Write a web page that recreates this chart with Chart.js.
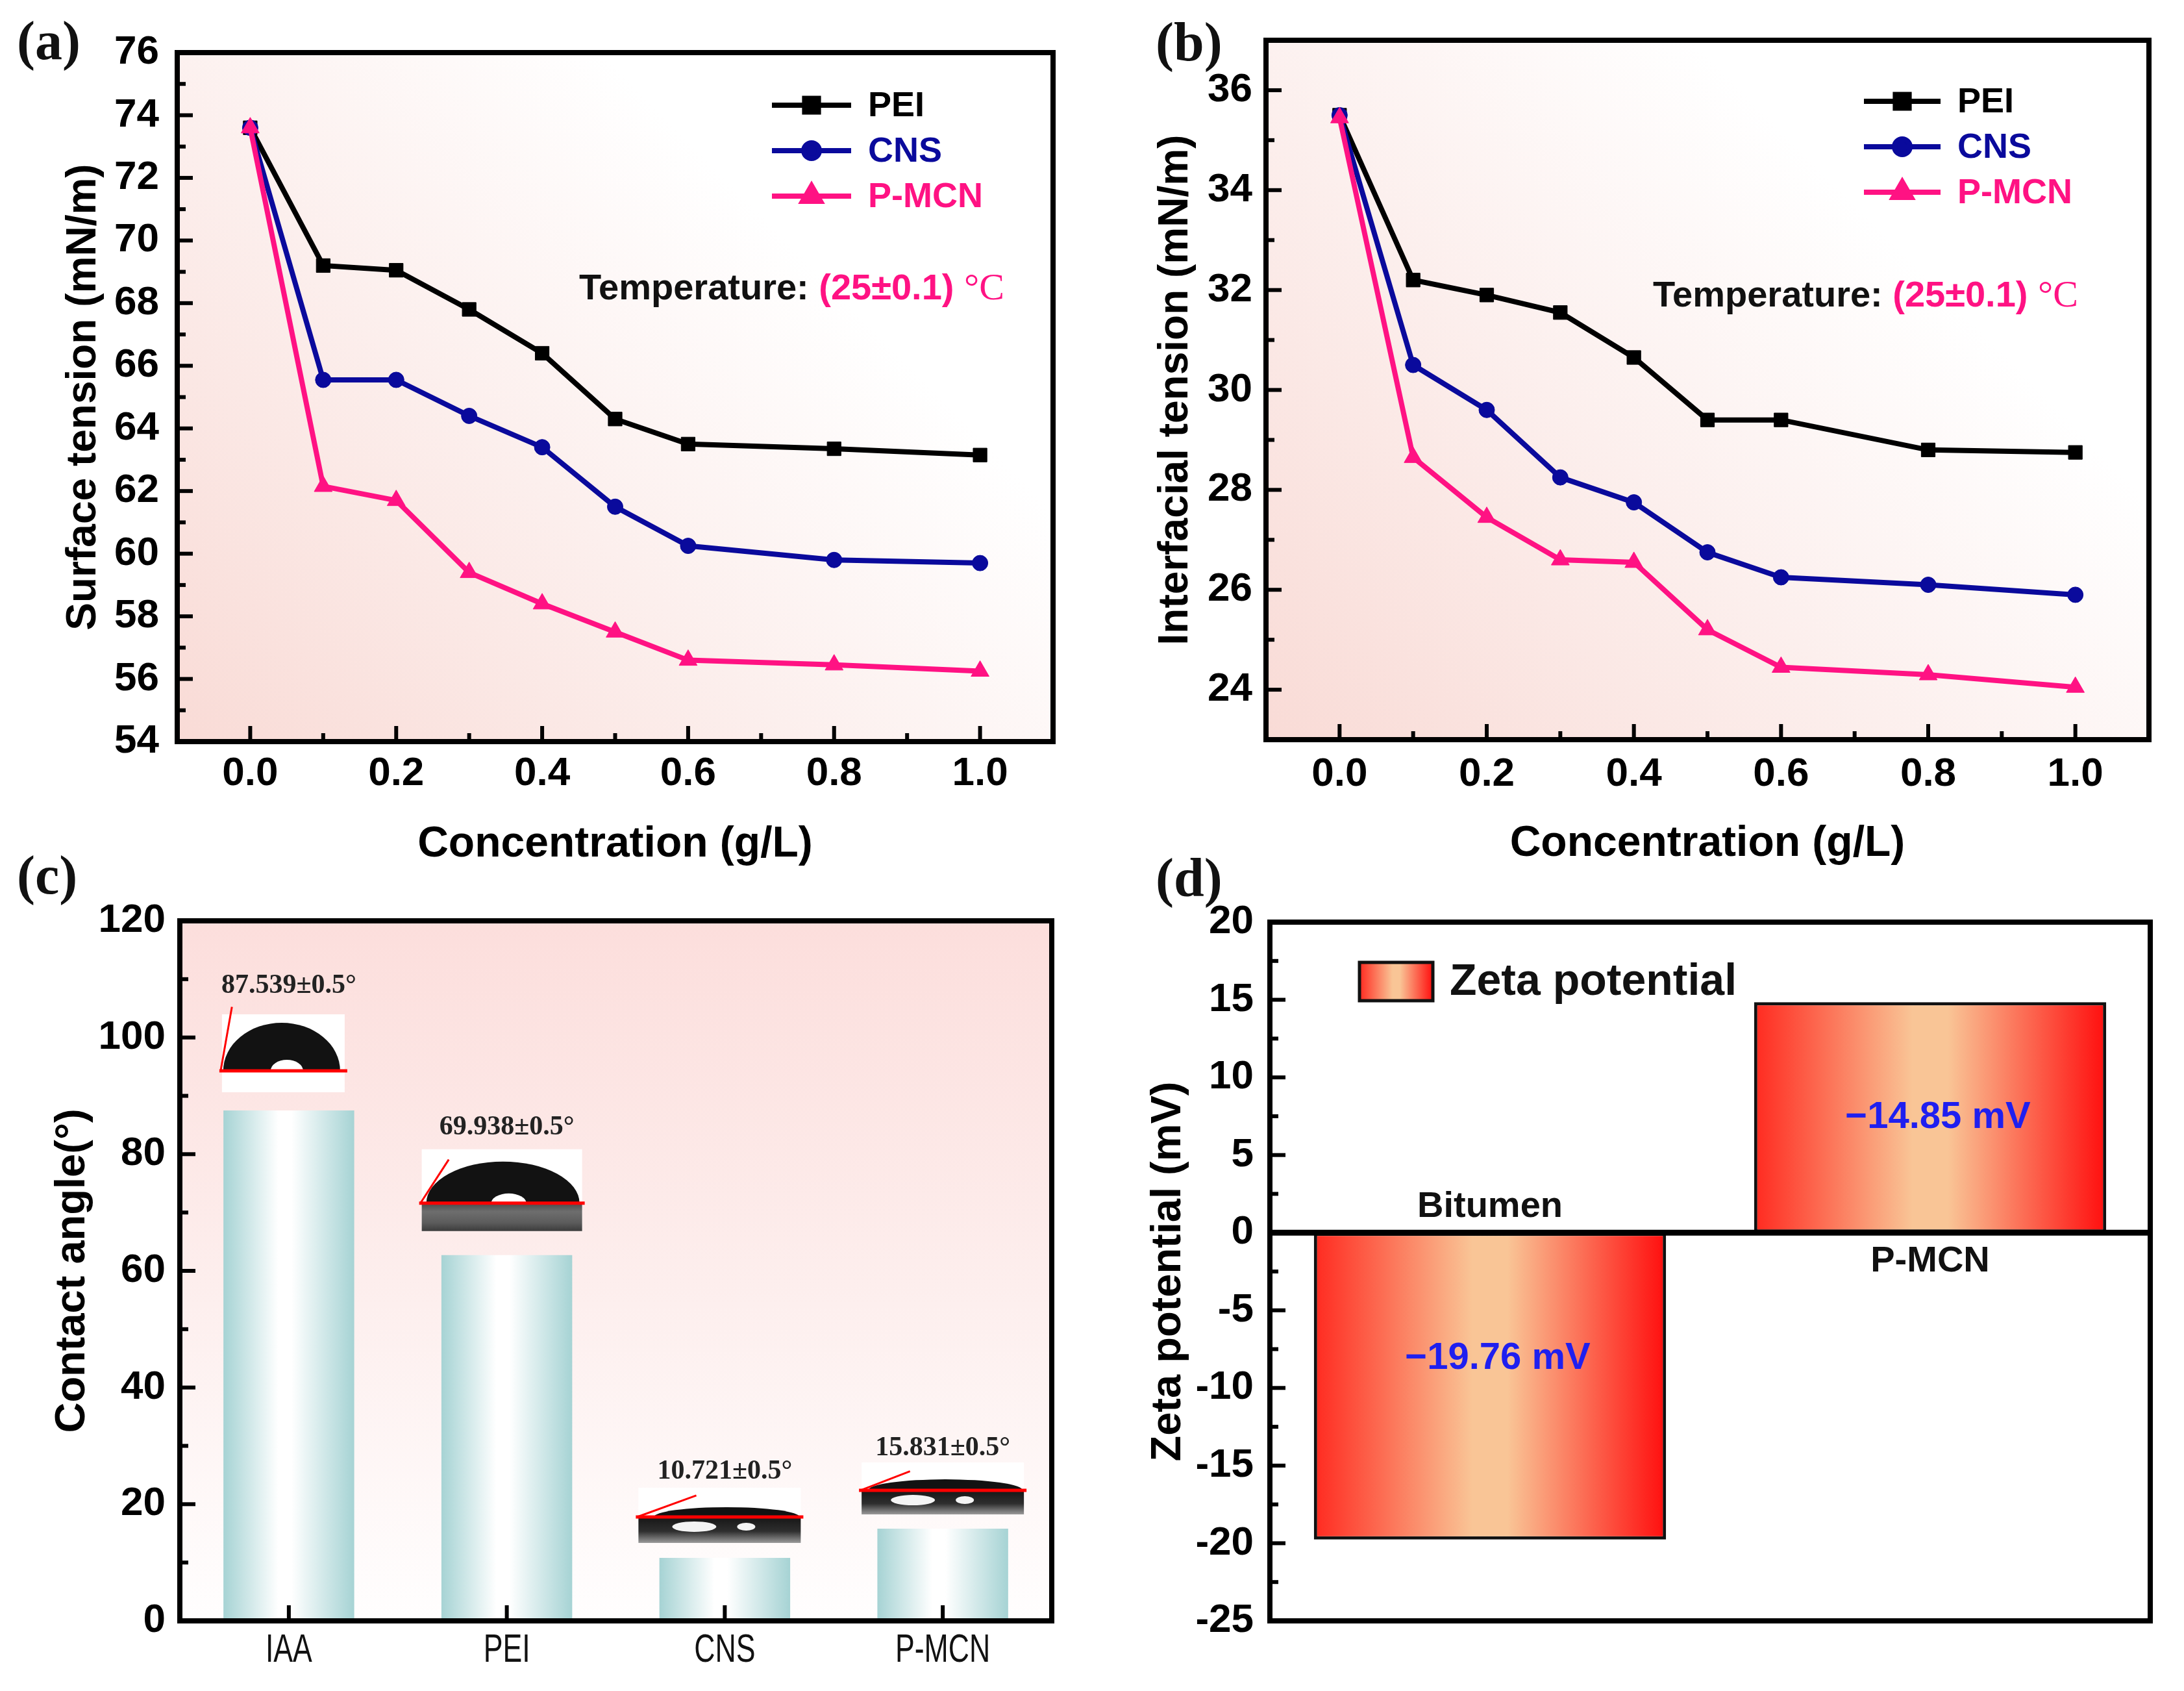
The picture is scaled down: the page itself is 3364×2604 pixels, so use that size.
<!DOCTYPE html>
<html>
<head>
<meta charset="utf-8">
<script src="https://cdn.jsdelivr.net/npm/chart.js@4.4.1/dist/chart.umd.min.js"></script>
<style>
  html, body { margin: 0; padding: 0; background: #fff; }
  body { width: 3364px; height: 2604px; position: relative; overflow: hidden; }
  canvas { position: absolute; }
  .tag { position: absolute; font: bold 84px "Liberation Serif", "Times New Roman", serif; color: #111; line-height: 1; z-index: 5; }
</style>
</head>
<body>
<canvas id="chart-a" style="left:0;top:0" width="1682" height="1370"></canvas>
<canvas id="chart-b" style="left:1682px;top:0" width="1682" height="1370"></canvas>
<canvas id="chart-c" style="left:0;top:1330px" width="1682" height="1274"></canvas>
<canvas id="chart-d" style="left:1682px;top:1330px" width="1682" height="1274"></canvas>
<div class="tag" style="left:26px;top:21px">(a)</div>
<div class="tag" style="left:1780px;top:23px">(b)</div>
<div class="tag" style="left:26px;top:1306px">(c)</div>
<div class="tag" style="left:1780px;top:1310px">(d)</div>
<script>
// ---- data ----
const CONC = [0, 0.1, 0.2, 0.3, 0.4, 0.5, 0.6, 0.8, 1.0];
const CONC_TICKS = [0, 0.2, 0.4, 0.6, 0.8, 1.0];

// (a) surface tension, mN/m
const ST_PEI  = [73.6, 69.2, 69.05, 67.8, 66.4, 64.3, 63.5, 63.35, 63.15];
const ST_CNS  = [73.6, 65.55, 65.55, 64.4, 63.4, 61.5, 60.25, 59.8, 59.7];
const ST_PMCN = [73.6, 62.15, 61.7, 59.4, 58.4, 57.5, 56.6, 56.45, 56.25];
const ST_TICKS = [54, 56, 58, 60, 62, 64, 66, 68, 70, 72, 74, 76];

// (b) interfacial tension, mN/m
const IFT_PEI  = [35.5, 32.2, 31.9, 31.55, 30.65, 29.4, 29.4, 28.8, 28.75];
const IFT_CNS  = [35.5, 30.5, 29.6, 28.25, 27.75, 26.75, 26.25, 26.1, 25.9];
const IFT_PMCN = [35.45, 28.65, 27.45, 26.6, 26.55, 25.2, 24.45, 24.3, 24.05];
const IFT_TICKS = [24, 26, 28, 30, 32, 34, 36];

// (c) contact angle
const CA_SAMPLES = ['IAA', 'PEI', 'CNS', 'P-MCN'];
const CA_VALUES = [87.5, 62.7, 10.8, 15.8];
const CA_NOTES = ['87.539±0.5°', '69.938±0.5°', '10.721±0.5°', '15.831±0.5°'];
const CA_TICKS = [0, 20, 40, 60, 80, 100, 120];

// (d) zeta potential
const ZETA_SAMPLES = ['Bitumen', 'P-MCN'];
const ZETA_VALUES = [-19.76, 14.85];
const ZETA_NOTES = ['−19.76 mV', '−14.85 mV'];
const ZETA_TICKS = [-25, -20, -15, -10, -5, 0, 5, 10, 15, 20];

const TEMP_NOTE = ['Temperature: ', '(25±0.1) ', '°C'];

const BLACK = '#000000';
const NAVY = '#0a0a9c';
const PINK = '#ff1283';
const SANS = '"Liberation Sans", Arial, sans-serif';
const SERIF = '"Liberation Serif", "Times New Roman", serif';

Chart.defaults.font.family = SANS;
Chart.defaults.color = '#000';

function midpoints(vals) {
    const out = [];
    for (let i = 0; i < vals.length - 1; i++) out.push((vals[i] + vals[i + 1]) / 2);
    return out;
}

// background, inward ticks, zero line and the heavy frame
function framePlugin(cfg) {
    return {
        id: 'frame',
        beforeDraw(chart) {
            const { ctx, chartArea: a } = chart;
            if (!cfg.fill) return;
            let g;
            if (cfg.fill === 'diagonal') {
                g = ctx.createLinearGradient(a.left, a.bottom, a.left + a.width * 0.8, a.top);
                g.addColorStop(0, '#f9dbd6');
                g.addColorStop(0.45, '#fcefed');
                g.addColorStop(0.8, '#ffffff');
            } else {
                g = ctx.createLinearGradient(0, a.top, 0, a.bottom);
                g.addColorStop(0, '#fcdedc');
                g.addColorStop(0.55, '#fdefee');
                g.addColorStop(1, '#fffefe');
            }
            ctx.save();
            ctx.fillStyle = g;
            ctx.fillRect(a.left, a.top, a.width, a.height);
            ctx.restore();
        },
        afterDatasetsDraw(chart) {
            const { ctx, chartArea: a, scales } = chart;
            const sx = scales.x, sy = scales.y;
            const seg = (x1, y1, x2, y2) => { ctx.beginPath(); ctx.moveTo(x1, y1); ctx.lineTo(x2, y2); ctx.stroke(); };
            ctx.save();
            ctx.strokeStyle = '#000';
            ctx.lineWidth = 6;
            (cfg.yMajor || []).forEach(v => { const p = sy.getPixelForValue(v); seg(a.left, p, a.left + 24, p); });
            (cfg.yMinor || []).forEach(v => { const p = sy.getPixelForValue(v); seg(a.left, p, a.left + 13, p); });
            (cfg.xMajor || []).forEach(v => { const p = sx.getPixelForValue(v); seg(p, a.bottom, p, a.bottom - 24); });
            (cfg.xMinor || []).forEach(v => { const p = sx.getPixelForValue(v); seg(p, a.bottom, p, a.bottom - 13); });
            if (cfg.zeroLine) {
                ctx.lineWidth = 9;
                const p = sy.getPixelForValue(0);
                seg(a.left, p, a.right, p);
            }
            ctx.lineWidth = 8;
            ctx.strokeRect(a.left, a.top, a.width, a.height);
            ctx.restore();
        }
    };
}

// line + marker legend and temperature note for (a) and (b)
function seriesLegend(cfg) {
    return {
        id: 'seriesLegend',
        afterDraw(chart) {
            const { ctx, chartArea: a } = chart;
            ctx.save();
            chart.data.datasets.forEach((ds, i) => {
                const y = a.top + cfg.top + i * cfg.gap;
                const x1 = a.right - cfg.right, x2 = x1 + cfg.len;
                ctx.strokeStyle = ds.borderColor;
                ctx.fillStyle = ds.borderColor;
                ctx.lineWidth = 8;
                ctx.beginPath(); ctx.moveTo(x1, y); ctx.lineTo(x2, y); ctx.stroke();
                Chart.helpers.drawPoint(ctx, { pointStyle: ds.pointStyle, radius: ds.pointRadius, rotation: 0, borderWidth: 1 }, (x1 + x2) / 2, y);
                ctx.font = 'bold 54px ' + SANS;
                ctx.textAlign = 'left';
                ctx.textBaseline = 'middle';
                ctx.fillText(ds.label, x2 + 26, y + 2);
            });
            let x = a.left + cfg.noteX;
            const y = a.top + cfg.noteY;
            ctx.font = 'bold 56px ' + SANS;
            ctx.fillStyle = '#111';
            ctx.fillText(TEMP_NOTE[0], x, y);
            x += ctx.measureText(TEMP_NOTE[0]).width;
            ctx.fillStyle = PINK;
            ctx.fillText(TEMP_NOTE[1], x, y);
            x += ctx.measureText(TEMP_NOTE[1]).width;
            ctx.font = '58px ' + SERIF;
            ctx.fillText(TEMP_NOTE[2], x, y);
            ctx.restore();
        }
    };
}

function series(label, values, color, style, radius, order) {
    return {
        label,
        data: CONC.map((c, i) => ({ x: c, y: values[i] })),
        borderColor: color,
        backgroundColor: color,
        pointBackgroundColor: color,
        pointBorderColor: color,
        borderWidth: 8,
        pointStyle: style,
        pointRadius: radius,
        pointBorderWidth: 1,
        tension: 0,
        order
    };
}

function linePanel(id, sets, yRange, yTicks, yTitle, box, legend) {
    return new Chart(document.getElementById(id), {
        type: 'line',
        data: { datasets: sets },
        options: {
            responsive: false,
            animation: false,
            devicePixelRatio: 1,
            events: [],
            layout: { padding: box.pad },
            plugins: { legend: { display: false }, tooltip: { enabled: false } },
            scales: {
                x: {
                    type: 'linear', min: -0.1, max: 1.1,
                    afterBuildTicks: s => { s.ticks = CONC_TICKS.map(v => ({ value: v })); },
                    afterFit: s => { s.height = box.xH; },
                    grid: { display: false, drawTicks: false },
                    border: { display: false },
                    ticks: { padding: box.xPad, autoSkip: false, maxRotation: 0, color: '#000',
                             font: { size: 62, weight: 'bold', lineHeight: 1 }, callback: v => v.toFixed(1) },
                    title: { display: true, text: 'Concentration (g/L)', color: '#000',
                             font: { size: 66, weight: 'bold', lineHeight: 1 }, padding: { top: 0, bottom: 0 } }
                },
                y: {
                    type: 'linear', min: yRange[0], max: yRange[1],
                    afterBuildTicks: s => { s.ticks = yTicks.map(v => ({ value: v })); },
                    afterFit: s => { s.width = box.yW; },
                    grid: { display: false, drawTicks: false },
                    border: { display: false },
                    ticks: { padding: box.yPad, autoSkip: false, color: '#000',
                             font: { size: 62, weight: 'bold', lineHeight: 1 }, callback: v => String(v) },
                    title: { display: true, text: yTitle, color: '#000',
                             font: { size: 64, weight: 'bold', lineHeight: 1 }, padding: { top: box.yTitlePad, bottom: 0 } }
                }
            }
        },
        plugins: [
            framePlugin({ fill: 'diagonal', xMajor: CONC_TICKS, xMinor: midpoints(CONC_TICKS), yMajor: yTicks, yMinor: midpoints(yTicks) }),
            seriesLegend(legend)
        ]
    });
}

// (a)
linePanel('chart-a', [
    series('PEI', ST_PEI, BLACK, 'rect', 15, 2),
    series('CNS', ST_CNS, NAVY, 'circle', 12, 1),
    series('P-MCN', ST_PMCN, PINK, 'triangle', 16, 0)
], [54, 76], ST_TICKS, 'Surface tension (mN/m)',
    { pad: { left: 0, top: 81, right: 60, bottom: 36 }, yW: 273, yPad: 28, yTitlePad: 97, xH: 192, xPad: 19 },
    { top: 81, gap: 70, right: 433, len: 122, noteX: 619, noteY: 365 });

// (b)
linePanel('chart-b', [
    series('PEI', IFT_PEI, BLACK, 'rect', 15, 2),
    series('CNS', IFT_CNS, NAVY, 'circle', 12, 1),
    series('P-MCN', IFT_PMCN, PINK, 'triangle', 16, 0)
], [23, 37], IFT_TICKS, 'Interfacial tension (mN/m)',
    { pad: { left: 0, top: 62, right: 54, bottom: 37 }, yW: 268, yPad: 21, yTitlePad: 97, xH: 194, xPad: 23 },
    { top: 94, gap: 70, right: 439, len: 118, noteX: 596, noteY: 395 });

// horizontal gradient fill for a bar, built from its category slot
function barFill(stops, widthFrac, fallback) {
    return c => {
        const chart = c.chart, a = chart.chartArea, sx = chart.scales.x;
        if (c.type !== 'data' || !a || !sx) return fallback;
        const half = (a.width / chart.data.labels.length) * widthFrac / 2;
        const cx = sx.getPixelForValue(c.dataIndex);
        const g = chart.ctx.createLinearGradient(cx - half, 0, cx + half, 0);
        stops.forEach(([o, col]) => g.addColorStop(o, col));
        return g;
    };
}

const TEAL_STOPS = [[0, '#a6d3d4'], [0.42, '#ffffff'], [0.52, '#ffffff'], [1, '#a6d3d4']];
const RED_STOPS = [[0, '#ff2a20'], [0.45, '#f9c596'], [0.55, '#f9c596'], [1, '#ff0e0e']];

// droplet insets above the contact-angle bars (offsets from bar centre / bar top, px)
const DROPS = [
    { dx: -103, w: 189, top: -148, base: -61, bottom: -28, domeDx: -11, hw: 90, h: 74, sub: null, angle: 80, len: 100, hl: [8, 25, 17] },
    { dx: -131, w: 247, top: -163, base: -80, bottom: -37, domeDx: -6, hw: 118, h: 64, sub: 'gray', angle: 57, len: 80, hl: [9, 27, 15] },
    { dx: -133, w: 250, top: -108, base: -63, bottom: -23, domeDx: 3, hw: 112, h: 15, sub: 'dark', angle: 20, len: 97, hl: null },
    { dx: -125, w: 250, top: -102, base: -59, bottom: -22, domeDx: 4, hw: 119, h: 17, sub: 'dark', angle: 21, len: 82, hl: null }
];
const NOTE_DY = [-192, -197, -133, -124];

const dropPlugin = {
    id: 'drops',
    afterDatasetsDraw(chart) {
        const { ctx, chartArea: a } = chart;
        const bars = chart.getDatasetMeta(0).data;
        ctx.save();
        bars.forEach((bar, i) => {
            const d = DROPS[i];
            const cx = bar.x, ty = bar.y;
            const bx = cx + d.dx, top = ty + d.top, base = ty + d.base, bottom = ty + d.bottom;
            const dcx = cx + d.domeDx;
            ctx.fillStyle = '#ffffff';
            ctx.fillRect(bx, top, d.w, bottom - top);
            if (d.sub) {
                const g = ctx.createLinearGradient(0, base, 0, bottom);
                if (d.sub === 'gray') {
                    g.addColorStop(0, '#4a4a4a'); g.addColorStop(0.3, '#6e6e6e'); g.addColorStop(0.7, '#5c5c5c'); g.addColorStop(1, '#3c3c3c');
                } else {
                    g.addColorStop(0, '#161616'); g.addColorStop(0.55, '#2e2e2e'); g.addColorStop(1, '#9a9a9a');
                }
                ctx.fillStyle = g;
                ctx.fillRect(bx, base, d.w, bottom - base);
                if (d.sub === 'dark') {
                    ctx.fillStyle = '#f4f4f4';
                    ctx.beginPath(); ctx.ellipse(dcx - 50, base + 15, 34, 8, 0, 0, Math.PI * 2); ctx.fill();
                    ctx.beginPath(); ctx.ellipse(dcx + 30, base + 15, 14, 6, 0, 0, Math.PI * 2); ctx.fill();
                }
            }
            ctx.fillStyle = '#121212';
            ctx.beginPath(); ctx.ellipse(dcx, base, d.hw, d.h, 0, Math.PI, Math.PI * 2); ctx.closePath(); ctx.fill();
            if (d.hl) {
                ctx.fillStyle = '#ffffff';
                ctx.beginPath(); ctx.ellipse(dcx + d.hl[0], base, d.hl[1], d.hl[2], 0, Math.PI, Math.PI * 2); ctx.closePath(); ctx.fill();
            }
            ctx.strokeStyle = '#ff0000';
            ctx.lineWidth = 5;
            ctx.beginPath(); ctx.moveTo(bx - 4, base); ctx.lineTo(bx + d.w + 4, base); ctx.stroke();
            const r = d.angle * Math.PI / 180;
            ctx.lineWidth = 3;
            ctx.beginPath(); ctx.moveTo(bx - 2, base); ctx.lineTo(bx - 2 + d.len * Math.cos(r), base - d.len * Math.sin(r)); ctx.stroke();
            ctx.font = 'bold 42px ' + SERIF;
            ctx.fillStyle = '#222';
            ctx.textAlign = 'center';
            ctx.textBaseline = 'middle';
            ctx.fillText(CA_NOTES[i], cx, ty + NOTE_DY[i]);

            // condensed category label under the axis
            ctx.save();
            ctx.translate(cx, a.bottom + 46);
            ctx.scale(0.72, 1);
            ctx.font = '62px ' + SANS;
            ctx.fillStyle = '#111';
            ctx.fillText(CA_SAMPLES[i], 0, 0);
            ctx.restore();
        });
        ctx.restore();
    }
};

// (c)
new Chart(document.getElementById('chart-c'), {
    type: 'bar',
    data: {
        labels: CA_SAMPLES,
        datasets: [{
            label: 'Contact angle',
            data: CA_VALUES,
            backgroundColor: barFill(TEAL_STOPS, 0.6, '#a6d3d4'),
            borderWidth: 0,
            barPercentage: 0.6,
            categoryPercentage: 1
        }]
    },
    options: {
        responsive: false,
        animation: false,
        devicePixelRatio: 1,
        events: [],
        layout: { padding: { left: 0, top: 88, right: 62, bottom: 8 } },
        plugins: { legend: { display: false }, tooltip: { enabled: false } },
        scales: {
            x: {
                afterFit: s => { s.height = 100; },
                grid: { display: false, drawTicks: false },
                border: { display: false },
                ticks: { display: false }
            },
            y: {
                min: 0, max: 120,
                afterBuildTicks: s => { s.ticks = CA_TICKS.map(v => ({ value: v })); },
                afterFit: s => { s.width = 277; },
                grid: { display: false, drawTicks: false },
                border: { display: false },
                ticks: { padding: 22, autoSkip: false, color: '#000',
                         font: { size: 62, weight: 'bold', lineHeight: 1 }, callback: v => String(v) },
                title: { display: true, text: 'Contact angle(°)', color: '#000',
                         font: { size: 65, weight: 'bold', lineHeight: 1 }, padding: { top: 80, bottom: 0 } }
            }
        }
    },
    plugins: [
        framePlugin({ fill: 'vertical', xMajor: CA_SAMPLES.map((_, i) => i), yMajor: CA_TICKS, yMinor: midpoints(CA_TICKS) }),
        dropPlugin
    ]
});

// (d) legend, sample names at the zero line and value notes
const zetaPlugin = {
    id: 'zetaNotes',
    afterDraw(chart) {
        const { ctx, chartArea: a, scales } = chart;
        const bars = chart.getDatasetMeta(0).data;
        const y0 = scales.y.getPixelForValue(0);
        const noteFrac = [0.41, 0.5];
        ctx.save();
        ctx.textAlign = 'center';
        ctx.textBaseline = 'middle';
        bars.forEach((bar, i) => {
            const v = ZETA_VALUES[i];
            ctx.font = 'bold 56px ' + SANS;
            ctx.fillStyle = '#111';
            ctx.fillText(ZETA_SAMPLES[i], bar.x, v < 0 ? y0 - 40 : y0 + 44);
            ctx.font = 'bold 58px ' + SANS;
            ctx.fillStyle = '#1f1fef';
            ctx.fillText(ZETA_NOTES[i], bar.x + 12, scales.y.getPixelForValue(v * noteFrac[i]));
        });
        // legend swatch
        const sx = a.left + 138, sy = a.top + 62, sw = 113, sh = 59;
        const g = ctx.createLinearGradient(sx, 0, sx + sw, 0);
        RED_STOPS.forEach(([o, col]) => g.addColorStop(o, col));
        ctx.fillStyle = g;
        ctx.fillRect(sx, sy, sw, sh);
        ctx.strokeStyle = '#111';
        ctx.lineWidth = 5;
        ctx.strokeRect(sx, sy, sw, sh);
        ctx.textAlign = 'left';
        ctx.font = 'bold 68px ' + SANS;
        ctx.fillStyle = '#111';
        ctx.fillText(chart.data.datasets[0].label, a.left + 277, a.top + 93);
        ctx.restore();
    }
};

new Chart(document.getElementById('chart-d'), {
    type: 'bar',
    data: {
        labels: ZETA_SAMPLES,
        datasets: [{
            label: 'Zeta potential',
            data: ZETA_VALUES,
            backgroundColor: barFill(RED_STOPS, 0.8, '#ff2a20'),
            borderColor: '#111',
            borderWidth: 5,
            borderSkipped: false,
            barPercentage: 0.8,
            categoryPercentage: 1
        }]
    },
    options: {
        responsive: false,
        animation: false,
        devicePixelRatio: 1,
        events: [],
        layout: { padding: { left: 0, top: 90, right: 52, bottom: 58 } },
        plugins: { legend: { display: false }, tooltip: { enabled: false } },
        scales: {
            x: {
                afterFit: s => { s.height = 50; },
                grid: { display: false, drawTicks: false },
                border: { display: false },
                ticks: { display: false }
            },
            y: {
                min: -25, max: 20,
                afterBuildTicks: s => { s.ticks = ZETA_TICKS.map(v => ({ value: v })); },
                afterFit: s => { s.width = 274; },
                grid: { display: false, drawTicks: false },
                border: { display: false },
                ticks: { padding: 25, autoSkip: false, color: '#000',
                         font: { size: 62, weight: 'bold', lineHeight: 1 }, callback: v => String(v) },
                title: { display: true, text: 'Zeta potential (mV)', color: '#000',
                         font: { size: 65, weight: 'bold', lineHeight: 1 }, padding: { top: 86, bottom: 0 } }
            }
        }
    },
    plugins: [
        framePlugin({ fill: null, yMajor: ZETA_TICKS, yMinor: midpoints(ZETA_TICKS), zeroLine: true }),
        zetaPlugin
    ]
});
</script>
</body>
</html>
